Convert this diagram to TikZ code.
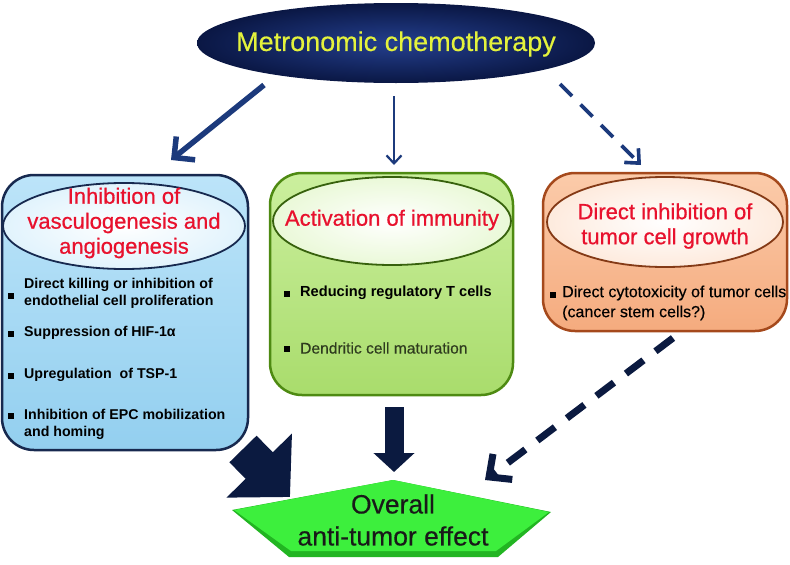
\documentclass[tikz,border=0pt]{standalone}
\usepackage{fontspec}
\setmainfont{Liberation Sans}
\newfontfamily\heavyfont[FakeBold=0.7]{Liberation Sans}
\newfontfamily\semifont[FakeBold=0.35]{Liberation Sans}
\usetikzlibrary{shapes.geometric,arrows.meta}
\definecolor{navyin}{HTML}{243F8E}
\definecolor{navyout}{HTML}{0A1744}
\definecolor{arrowblue}{HTML}{1C3A7C}
\definecolor{darknavy}{HTML}{0B1A40}
\definecolor{ytext}{HTML}{E4F23C}
\definecolor{redtext}{HTML}{E8112D}
\definecolor{bluetop}{HTML}{BCE4F9}
\definecolor{bluebot}{HTML}{93CFEF}
\definecolor{blueedge}{HTML}{17294F}
\definecolor{greentop}{HTML}{CBEF9E}
\definecolor{greenbot}{HTML}{A9DC6C}
\definecolor{greenedge}{HTML}{4E8A12}
\definecolor{peachtop}{HTML}{FBCBAA}
\definecolor{peachbot}{HTML}{F5AB7E}
\definecolor{peachedge}{HTML}{A5491C}
\definecolor{pentface}{HTML}{3DEF3D}
\definecolor{pentdark}{HTML}{22B522}
\definecolor{olivetext}{HTML}{2E3B1E}
\begin{document}
\begin{tikzpicture}[x=1pt,y=-1pt,
  boxshape/.style={rectangle, rounded corners=32pt, line width=2.5pt, inner sep=0pt},
  ellshape/.style={ellipse, line width=1.8pt, inner sep=0pt},
  headtext/.style={text=redtext, align=center, inner sep=0pt, font=\heavyfont\fontsize{22}{25}\selectfont},
  bulletsq/.style={rectangle, fill=black, minimum size=6pt, inner sep=0pt},
  itemtext/.style={anchor=west, align=left, inner sep=0pt},
  toparrow/.style={draw=arrowblue, line cap=butt},
  blockarrow/.style={draw=darknavy}
]
\useasboundingbox (0,0) rectangle (790,565);

% top ellipse
\node[ellipse, minimum width=398pt, minimum height=80pt, inner sep=0pt,
      inner color=navyin, outer color=navyout] (top) at (396,43) {};
\node[text=ytext, inner sep=0pt, font=\semifont\fontsize{27}{30}\selectfont] (toptext) at (396,44) {Metronomic chemotherapy};

% boxes
\node[boxshape, draw=blueedge, top color=bluetop, bottom color=bluebot,
      minimum width=246pt, minimum height=275pt] (lbox) at (125,312.5) {};
\node[boxshape, draw=greenedge, top color=greentop, bottom color=greenbot,
      minimum width=243pt, minimum height=222pt] (mbox) at (391.5,284) {};
\node[boxshape, draw=peachedge, top color=peachtop, bottom color=peachbot,
      minimum width=244pt, minimum height=158pt] (rbox) at (665,252) {};

% inner ellipses
\node[ellshape, draw=blueedge, inner color=white, outer color=bluetop!45!white,
      minimum width=242pt, minimum height=86pt] (lell) at (124,226) {};
\node[ellshape, draw=greenedge!70!black, inner color=white, outer color=greentop!40!white,
      minimum width=238pt, minimum height=88pt] (mell) at (392,221) {};
\node[ellshape, draw=peachedge!80!black, inner color=white, outer color=peachtop!40!white,
      minimum width=236pt, minimum height=90pt] (rell) at (665,222) {};

\node[headtext] (lhead) at (124,223) {Inhibition of\\vasculogenesis and\\angiogenesis};
\node[headtext] (mhead) at (392,220) {Activation of immunity};
\node[headtext] (rhead) at (665,226) {Direct inhibition of\\tumor cell growth};

% left items
\begin{scope}[every node/.append style={font=\fontsize{14.2}{17}\selectfont\bfseries}]
\node[bulletsq] (lb1) at (11,296) {};
\node[itemtext] (lt1) at (24,293.5) {Direct killing or inhibition of\\endothelial cell proliferation};
\node[bulletsq] (lb2) at (11,334) {};
\node[itemtext] (lt2) at (24,333) {Suppression of HIF-1α};
\node[bulletsq] (lb3) at (11,376) {};
\node[itemtext] (lt3) at (24,375) {Upregulation~ of TSP-1};
\node[bulletsq] (lb4) at (11,416) {};
\node[itemtext] (lt4) at (24,424) {Inhibition of EPC mobilization\\and homing};
\end{scope}

% middle items
\node[bulletsq] (mb1) at (287,294) {};
\node[itemtext, font=\fontsize{14.6}{17}\selectfont\bfseries] (mt1) at (300,293) {Reducing regulatory T cells};
\node[bulletsq] (mb2) at (287,349) {};
\node[itemtext, text=olivetext, font=\semifont\fontsize{15.6}{18}\selectfont] (mt2) at (300,348) {Dendritic cell maturation};

% right items
\node[bulletsq] (rb1) at (553,295) {};
\node[itemtext, font=\semifont\fontsize{16}{20}\selectfont] (rt1) at (562,303) {Direct cytotoxicity of tumor cells\\(cancer stem cells?)};

% pentagon
\fill[pentdark] (393,480) -- (551,512) -- (498,557) -- (289,557) -- (232,510) -- cycle;
\fill[pentface] (393,480) -- (549,512) -- (496,551) -- (291,551) -- (234,510) -- cycle;
\node[align=center, inner sep=0pt, text=black!90, font=\semifont\fontsize{26.5}{32}\selectfont] (overall) at (393,520) {Overall\\anti-tumor effect};

% top arrows
\coordinate (a1s) at (264,85);
\coordinate (a1e) at (171,160);
\coordinate (a2s) at (394,96);
\coordinate (a2e) at (394,165);
\coordinate (a3s) at (560,84);
\coordinate (a3e) at (641,165);
\draw[toparrow, line width=5.5pt, -{Straight Barb[length=15pt,width=30pt]}] (a1s) -- (a1e);
\draw[toparrow, line width=2.2pt, -{Straight Barb[length=8pt,width=15pt]}] (a2s) -- (a2e);
\draw[toparrow, line width=3.6pt, dash pattern=on 17pt off 12pt, -{Straight Barb[length=11pt,width=20pt]}] (a3s) -- (a3e);

% bottom arrows
\coordinate (b1s) at (243,449);
\coordinate (b1e) at (290,497);
\coordinate (b2s) at (394,407);
\coordinate (b2e) at (394,472);
\coordinate (b3s) at (673,338);
\coordinate (b3e) at (485,480);
\draw[blockarrow, line width=38pt, -{Triangle[length=44pt,width=89pt]}] (b1s) -- (b1e);
\draw[blockarrow, line width=19pt, -{Triangle[length=19pt,width=40pt]}] (b2s) -- (b2e);
\draw[blockarrow, line width=7pt, dash pattern=on 22pt off 15pt, -{Straight Barb[length=17pt,width=32pt]}] (b3s) -- (b3e);
\end{tikzpicture}
\end{document}
